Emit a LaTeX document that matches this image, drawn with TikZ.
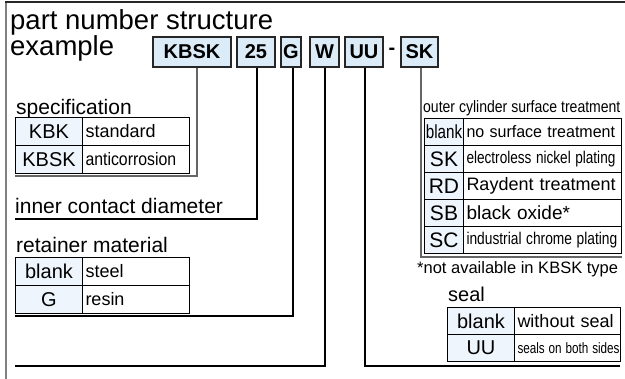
\documentclass[tikz,border=0pt]{standalone}
\usepackage{fontspec}
\setmainfont{Liberation Sans}
\usepackage{graphicx}
\newcommand\myfs[1]{\fontsize{#1}{#1}\selectfont}
\newcommand\sx[2]{\scalebox{#1}[1]{#2}}
\definecolor{boxblue}{HTML}{DCEBF8}
\definecolor{keyblue}{HTML}{EEF5FC}
\tikzset{
 pbox/.style={draw=black!85, line width=1.2, fill=boxblue, minimum height=30, inner sep=0, font=\bfseries\myfs{20}},
 keycell/.style={draw=black, line width=1, fill=keyblue, anchor=north west, inner sep=0, font=\myfs{20}},
 desccell/.style={draw=black, line width=1, fill=white, anchor=north west, inner xsep=3, inner ysep=0, align=left, font=\myfs{18}},
 lbl/.style={anchor=base west, inner sep=0, font=\myfs{21}},
 conn/.style={draw=black, line width=1.1},
 gconn/.style={draw=black!60, line width=1.1},
}
\begin{document}
\begin{tikzpicture}[x=1pt,y=-1pt]
\useasboundingbox (0,0) rectangle (625,379);
% frame
\draw[draw=black!50, line width=2] (6,379) -- (6,2);
\draw[draw=black!85, line width=1.5] (5,2) -- (625,2);
% title
\node[lbl, font=\myfs{27.5}] (t1) at (10,30) {part number structure};
\node[lbl, font=\myfs{27.5}] (t2) at (10,56) {example};
% part boxes
\node[pbox, minimum width=78] (kbsk) at (192,52) {KBSK};
\node[pbox, minimum width=38] (n25) at (256,52) {25};
\node[pbox, minimum width=20] (g) at (291,52) {G};
\node[pbox, minimum width=29] (w) at (324.5,52) {W};
\node[pbox, minimum width=38] (uu) at (364,52) {UU};
\node[inner sep=0, font=\bfseries\myfs{20}] (dash) at (392,51) {-};
\node[pbox, minimum width=37] (sk) at (419.5,52) {SK};
% connectors
\coordinate (b1) at (197,176); \coordinate (e1) at (15,176);
\coordinate (b2) at (257,219); \coordinate (e2) at (15,219);
\coordinate (b3) at (293,316); \coordinate (e3) at (15,316);
\coordinate (b4) at (325,366); \coordinate (e4) at (15,366);
\coordinate (b5) at (365,366); \coordinate (e5) at (620,366);
\coordinate (b6) at (421,257); \coordinate (e6) at (622,257);
\draw[gconn] (kbsk.south -| b1) -- (b1) -- (e1);
\draw[conn] (n25.south -| b2) -- (b2) -- (e2);
\draw[conn] (g.south -| b3) -- (b3) -- (e3);
\draw[conn] (w.south -| b4) -- (b4) -- (e4);
\draw[conn] (uu.south -| b5) -- (b5) -- (e5);
\draw[gconn] (sk.south -| b6) -- (b6) -- (e6);
% specification
\node[lbl] (lspec) at (16,115) {specification};
\node[keycell, minimum width=67, minimum height=28] (k11) at (15,117) {KBK};
\node[desccell, text width=101, minimum height=28] (d11) at (82,117) {\mbox{standard}};
\node[keycell, minimum width=67, minimum height=28] (k12) at (15,145) {KBSK};
\node[desccell, text width=101, minimum height=28] (d12) at (82,145) {\sx{0.88}{anticorrosion}};
% inner contact diameter
\node[lbl] (lid) at (15,214) {inner contact diameter};
% retainer
\node[lbl] (lret) at (16,253) {retainer material};
\node[keycell, minimum width=67, minimum height=28] (k21) at (15,257) {blank};
\node[desccell, text width=101, minimum height=28] (d21) at (82,257) {\mbox{steel}};
\node[keycell, minimum width=67, minimum height=28] (k22) at (15,285) {G};
\node[desccell, text width=101, minimum height=28] (d22) at (82,285) {\mbox{resin}};
% outer cylinder
\node[lbl, font=\myfs{16.5}] (lout) at (423,113) {\sx{0.85}{outer cylinder surface treatment}};
\node[keycell, minimum width=39, minimum height=27, font=\myfs{19}] (k31) at (424,118) {\sx{0.8}{blank}};
\node[desccell, text width=152, minimum height=27, font=\myfs{16.5}] (d31) at (463,118) {\sx{0.97}{no surface treatment}};
\node[keycell, minimum width=39, minimum height=27, font=\myfs{21}] (k32) at (424,145) {SK};
\node[desccell, text width=152, minimum height=27, font=\myfs{17}] (d32) at (463,145) {\sx{0.8}{electroless nickel plating}};
\node[keycell, minimum width=39, minimum height=27, font=\myfs{21}] (k33) at (424,172) {RD};
\node[desccell, text width=152, minimum height=27, font=\myfs{18}] (d33) at (463,172) {\mbox{Raydent treatment}};
\node[keycell, minimum width=39, minimum height=27, font=\myfs{21}] (k34) at (424,199) {SB};
\node[desccell, text width=152, minimum height=27, font=\myfs{19}] (d34) at (463,199) {\mbox{black oxide*}};
\node[keycell, minimum width=39, minimum height=27, font=\myfs{21}] (k35) at (424,226) {SC};
\node[desccell, text width=152, minimum height=27, font=\myfs{17}] (d35) at (463,226) {\sx{0.81}{industrial chrome plating}};
\node[lbl, font=\myfs{16.5}] (lnote) at (417,274) {*not available in KBSK type};
% seal
\node[lbl, font=\myfs{20}] (lseal) at (448,302) {seal};
\node[keycell, minimum width=67, minimum height=27] (k41) at (447,307) {blank};
\node[desccell, text width=100, minimum height=27] (d41) at (514,307) {\mbox{without seal}};
\node[keycell, minimum width=67, minimum height=27] (k42) at (447,334) {UU};
\node[desccell, text width=100, minimum height=27, font=\myfs{15}] (d42) at (514,334) {\sx{0.78}{seals on both sides}};
\end{tikzpicture}
\end{document}
